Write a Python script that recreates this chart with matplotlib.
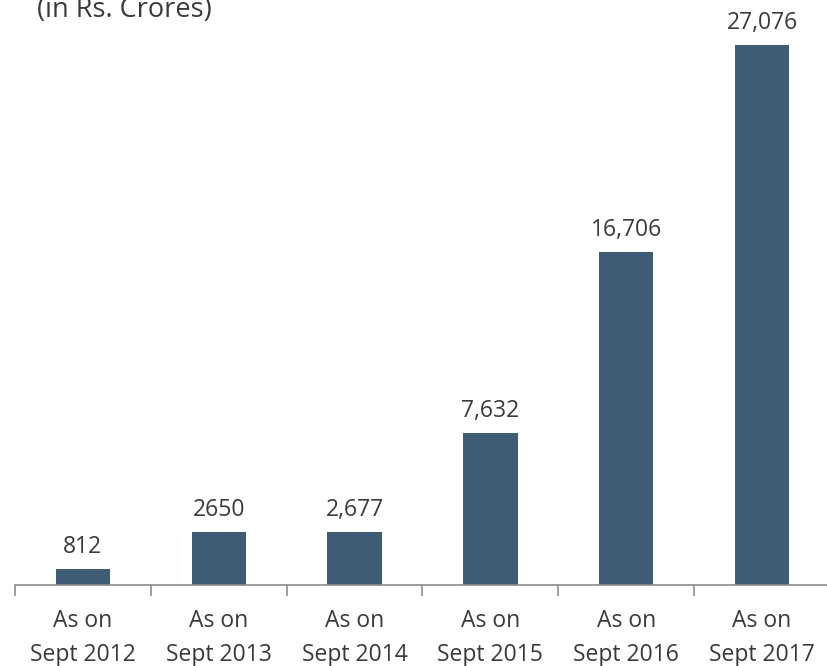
import matplotlib.pyplot as plt
import numpy as np

plt.rcParams['font.family'] = ['Open Sans', 'DejaVu Sans']

categories = ["As on\nSept 2012", "As on\nSept 2013", "As on\nSept 2014",
              "As on\nSept 2015", "As on\nSept 2016", "As on\nSept 2017"]
values = [812, 2650, 2677, 7632, 16706, 27076]
value_labels = ["812", "2650", "2,677", "7,632", "16,706", "27,076"]

bar_color = "#3e5c76"
text_color = "#3a3a3a"

fig = plt.figure(figsize=(8.27, 6.66), dpi=100)
ax = fig.add_axes([15 / 827, 81 / 666, 815 / 827, 585 / 666])

x = np.arange(len(categories))
bars = ax.bar(x, values, width=0.4, color=bar_color)

for b, lab in zip(bars, value_labels):
    ax.annotate(lab, (b.get_x() + b.get_width() / 2, b.get_height()),
                xytext=(0, 7), textcoords="offset points",
                ha="center", va="bottom", fontsize=16.5, color=text_color)

ax.set_xlim(-0.5, 5.5)
ax.set_ylim(0, 27076 * 585 / 540)

for s in ["top", "right", "left"]:
    ax.spines[s].set_visible(False)
ax.spines["bottom"].set_color("#8c8c8c")
ax.spines["bottom"].set_linewidth(1.2)
ax.set_yticks([])

ax.set_xticks(x)
ax.set_xticklabels(categories, fontsize=16.5, color=text_color, linespacing=1.55)
ax.tick_params(axis="x", which="major", length=0, pad=17)
ax.set_xticks(np.arange(-0.5, 5.0, 1.0), minor=True)
ax.tick_params(axis="x", which="minor", length=8, width=1.2, color="#8c8c8c")

fig.text(37 / 827, 1 - 10 / 666, "(in Rs. Crores)", fontsize=19.5,
         color=text_color, ha="left", va="center")

fig.savefig("out.png", dpi=100)
